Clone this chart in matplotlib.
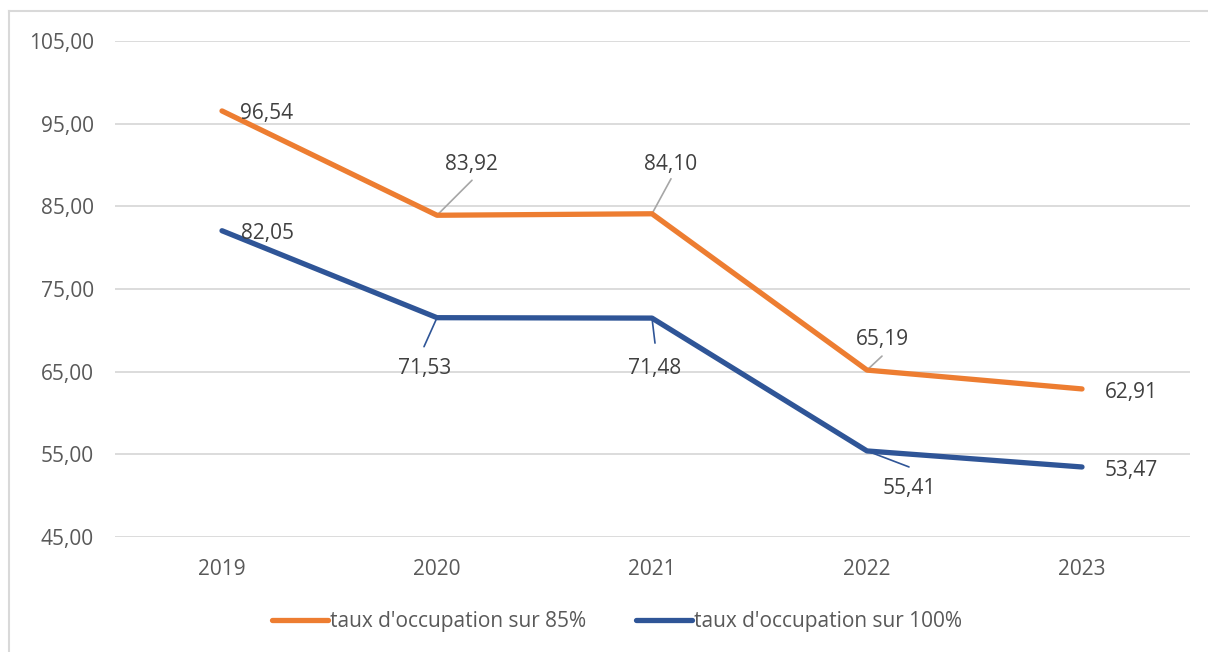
import matplotlib
matplotlib.use('Agg')
import matplotlib.pyplot as plt
from matplotlib.lines import Line2D

# data
years = ['2019', '2020', '2021', '2022', '2023']
occ_85 = [96.54, 83.92, 84.10, 65.19, 62.91]
occ_100 = [82.05, 71.53, 71.48, 55.41, 53.47]
yticks = [45, 55, 65, 75, 85, 95, 105]

# label offsets in pixels: (text dx, dy, leader dx, dy or None)
offs_85 = [(45, -3, None), (34, 51, (35, 35)), (19, 49, (19, 35)),
           (15, 31, (15, 14)), (49, -4, None)]
offs_100 = [(45, -3, None), (-12, -51, (-13, -29)), (3, -50, (3, -25)),
            (42, -38, (42, -16)), (49, -4, None)]

orange = '#ED7D31'
blue = '#2F5597'
txt = '#404040'
tick_col = '#595959'

plt.rcParams['font.family'] = ['Open Sans', 'DejaVu Sans']

fig = plt.figure(figsize=(12.08, 6.52), dpi=100)
ax = fig.add_axes([114.5 / 1208, 1 - 537 / 652, 1075 / 1208, 496 / 652])

x = list(range(len(years)))
ax.plot(x, occ_85, color=orange, lw=3.8, solid_capstyle='round',
        solid_joinstyle='round', label="taux d'occupation sur 85%", zorder=3)
ax.plot(x, occ_100, color=blue, lw=3.8, solid_capstyle='round',
        solid_joinstyle='round', label="taux d'occupation sur 100%", zorder=3)

ax.set_xlim(-0.5, len(years) - 0.5)
ax.set_ylim(45, 105)
ax.set_yticks(yticks)
ax.set_yticklabels(['{:.2f}'.format(v).replace('.', ',') for v in yticks])
ax.set_xticks(x)
ax.set_xticklabels(years)
ax.tick_params(axis='y', length=0, pad=15, labelsize=15, labelcolor=tick_col)
ax.tick_params(axis='x', length=0, pad=16, labelsize=15, labelcolor=tick_col)
ax.grid(axis='y', color='#d9d9d9', lw=1.3)
ax.set_axisbelow(True)
for s in ax.spines.values():
    s.set_visible(False)


def label(vals, offs, lcol):
    for i, (v, (dx, dy, ld)) in enumerate(zip(vals, offs)):
        if ld is not None:
            ax.annotate('', xy=(i, v), xytext=ld, textcoords='offset pixels',
                        arrowprops=dict(arrowstyle='-', color=lcol, lw=1.2,
                                        shrinkA=0, shrinkB=0), zorder=2)
        ax.annotate('{:.2f}'.format(v).replace('.', ','), xy=(i, v),
                    xytext=(dx, dy), textcoords='offset pixels',
                    ha='center', va='center', fontsize=15, color=txt,
                    annotation_clip=False)


label(occ_85, offs_85, '#a6a6a6')
label(occ_100, offs_100, blue)

leg = fig.legend(loc='center', bbox_to_anchor=(617 / 1208, 1 - 622 / 652),
                 ncol=2, frameon=False, fontsize=15, handlelength=2.7,
                 handletextpad=0.1, columnspacing=2.4)
for t in leg.get_texts():
    t.set_color(tick_col)

# chart border (left and top only visible)
bx, by = 8.5 / 1208, 1 - 10.5 / 652
fig.add_artist(Line2D([bx, bx], [0, by], transform=fig.transFigure,
                      color='#d9d9d9', lw=1.5))
fig.add_artist(Line2D([bx, 1], [by, by], transform=fig.transFigure,
                      color='#d9d9d9', lw=1.5))

fig.savefig('out.png', dpi=100)
